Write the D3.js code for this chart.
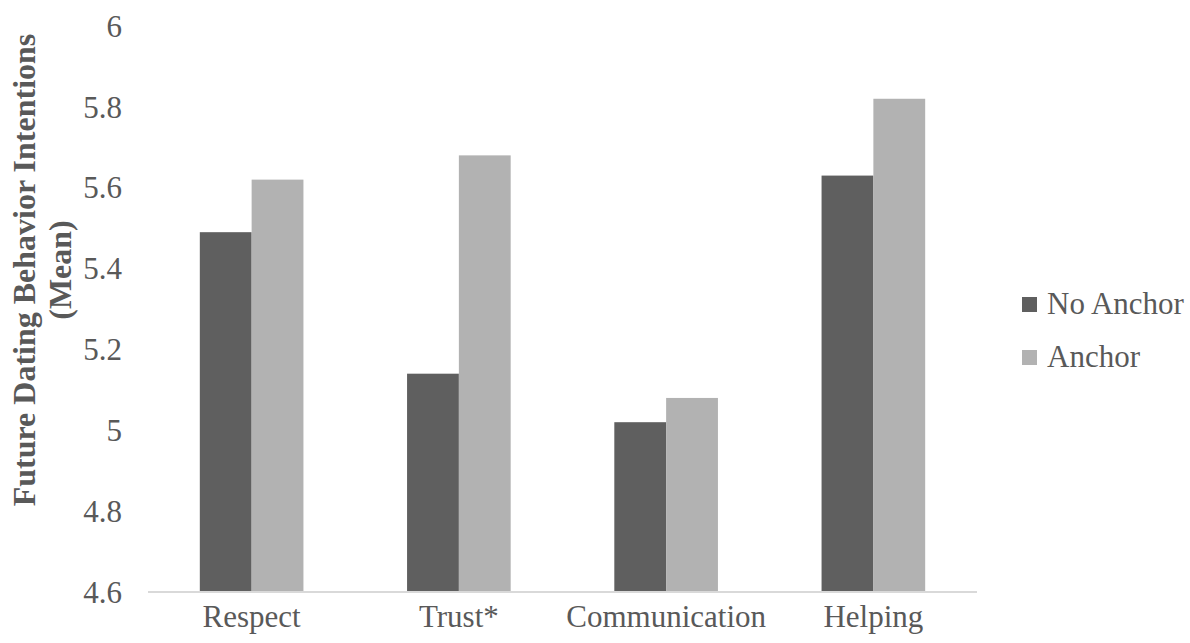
<!DOCTYPE html>
<html>
<head>
<meta charset="utf-8">
<script src="https://cdn.jsdelivr.net/npm/d3@7/dist/d3.min.js"></script>
<style>
  html, body { margin: 0; padding: 0; background: #ffffff; }
  svg { display: block; }
  text { font-family: "Liberation Serif", "Times New Roman", serif; fill: #595959; }
</style>
</head>
<body>
<svg id="chart" width="1190" height="643"></svg>
<script>
// ---- data ----
const categories = ["Respect", "Trust*", "Communication", "Helping"];
const seriesNames = ["No Anchor", "Anchor"];
const noAnchor = [5.49, 5.14, 5.02, 5.63];
const anchor = [5.62, 5.68, 5.08, 5.82];
const yTicks = [4.6, 4.8, 5, 5.2, 5.4, 5.6, 5.8, 6];
const yTitleLines = ["Future Dating Behavior Intentions", "(Mean)"];

const colors = ["#5f5f5f", "#b2b2b2"];
const seriesValues = [noAnchor, anchor];

(function () {
const svg = d3.select("#chart");
const plotLeft = 148, plotRight = 977, plotTop = 26, plotBottom = 592;

const x0 = d3.scaleBand().domain(categories).range([plotLeft, plotRight])
  .paddingInner(0.5).paddingOuter(0.25);
const x1 = d3.scaleBand().domain(seriesNames).range([0, x0.bandwidth()]);
const y = d3.scaleLinear().domain([4.6, 6]).range([plotBottom, plotTop]);

// bars
const groups = svg.append("g").selectAll("g")
  .data(categories).join("g")
  .attr("transform", d => `translate(${x0(d)},0)`);

groups.selectAll("rect")
  .data((d, i) => seriesNames.map((s, j) => ({ s, v: seriesValues[j][i], j })))
  .join("rect")
  .attr("x", d => x1(d.s))
  .attr("width", x1.bandwidth())
  .attr("y", d => y(d.v))
  .attr("height", d => y(4.6) - y(d.v))
  .attr("fill", d => colors[d.j]);

// x axis line
svg.append("line")
  .attr("x1", plotLeft).attr("x2", plotRight)
  .attr("y1", y(4.6)).attr("y2", y(4.6))
  .attr("stroke", "#d9d9d9").attr("stroke-width", 2);

// y tick labels
const yAxis = d3.axisLeft(y).tickValues(yTicks).tickSize(0).tickPadding(0)
  .tickFormat(d => String(+d.toFixed(1)));
const yg = svg.append("g").attr("transform", "translate(122,0)").call(yAxis);
yg.select(".domain").remove();
yg.selectAll("text")
  .attr("font-size", 31).attr("fill", "#595959").attr("dy", "0.33em");

// x labels
const xAxis = d3.axisBottom(x0).tickSize(0).tickPadding(0);
const xg = svg.append("g").attr("transform", `translate(0,${y(4.6)})`).call(xAxis);
xg.select(".domain").remove();
xg.selectAll("text")
  .attr("font-size", 31).attr("fill", "#595959")
  .attr("y", 35).attr("dy", 0);

// y title
const titleX = [35, 71];
yTitleLines.forEach((t, i) => {
  svg.append("text")
    .attr("transform", `translate(${titleX[i]},270) rotate(-90)`)
    .attr("text-anchor", "middle")
    .attr("font-size", 32).attr("font-weight", "bold")
    .text(t);
});

// legend
const legend = svg.append("g").selectAll("g")
  .data(seriesNames).join("g")
  .attr("transform", (d, i) => `translate(1022,${297 + i * 53})`);
legend.append("rect").attr("width", 15).attr("height", 15)
  .attr("fill", (d, i) => colors[i]);
legend.append("text").attr("x", 25).attr("y", 17)
  .attr("font-size", 31).text(d => d);
})();
</script>
</body>
</html>
